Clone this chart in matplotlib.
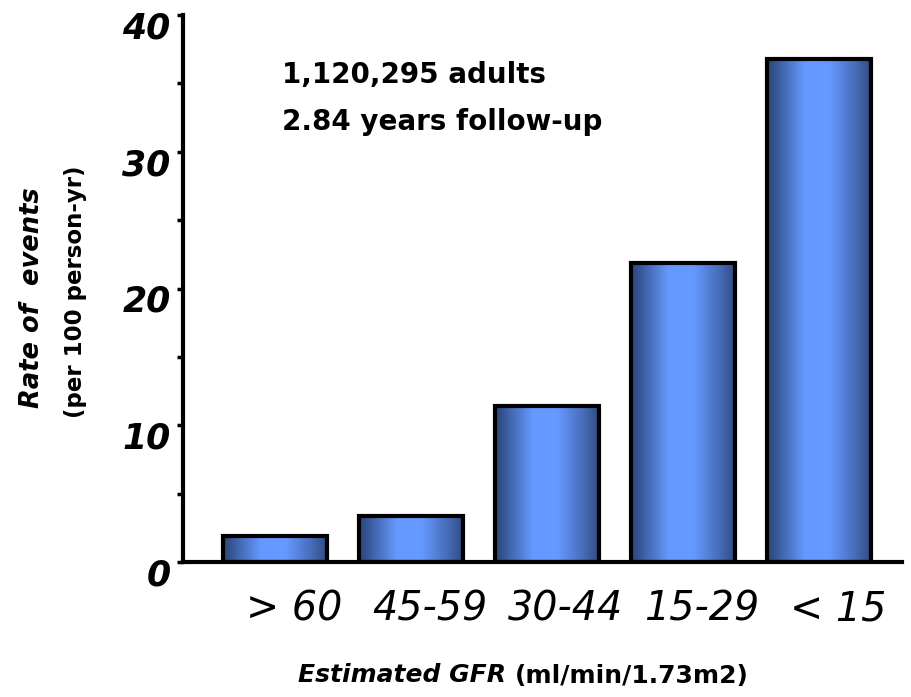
import numpy as np
import matplotlib
matplotlib.use("Agg")
import matplotlib.pyplot as plt
from matplotlib.transforms import offset_copy

categories = ["> 60", "45-59", "30-44", "15-29", "< 15"]
rates = [1.9, 3.4, 11.4, 21.9, 36.8]
major_ticks = [0, 10, 20, 30, 40]
minor_ticks = [5, 15, 25, 35]
note_lines = ["1,120,295 adults", "2.84 years follow-up"]

plt.rcParams["font.family"] = ["DejaVu Sans"]

fig = plt.figure(figsize=(9.12, 6.97), dpi=100)
ax = fig.add_axes([183 / 912, 1 - 562 / 697, (902 - 183) / 912, (562 - 15) / 697])

x = np.arange(len(categories))
bars = ax.bar(x, rates, width=0.765, facecolor="none", edgecolor="black",
              linewidth=3, zorder=3)

# horizontal shading: dark edges, bright centre
dark = np.array([0x2c, 0x45, 0x7a]) / 255
light = np.array([0x66, 0x99, 0xff]) / 255
t = np.linspace(0, 1, 256)
profile = np.interp(t, [0, 0.08, 0.36, 0.6, 0.85, 1.0],
                    [0.0, 0.2, 1.0, 1.0, 0.45, 0.05])
grad = (dark[None, :] + (light - dark)[None, :] * profile[:, None])[None, :, :]
for b in bars:
    x0, y0 = b.get_x(), b.get_y()
    w, h = b.get_width(), b.get_height()
    im = ax.imshow(grad, extent=[x0, x0 + w, y0, y0 + h], aspect="auto",
                   origin="lower", zorder=2, interpolation="bilinear")
    im.set_clip_path(b)

ax.set_xlim(-0.676, 4.61)
ax.set_ylim(0, 40)

for s in ["top", "right"]:
    ax.spines[s].set_visible(False)
for s in ["left", "bottom"]:
    ax.spines[s].set_linewidth(3)

ax.set_yticks(major_ticks)
ax.set_yticks(minor_ticks, minor=True)
ax.set_yticklabels([str(v) for v in major_ticks], fontsize=25,
                   fontweight="bold", fontstyle="italic")
ax.tick_params(axis="y", which="both", direction="out", length=4, width=2.5,
               pad=5)
for lbl in ax.get_yticklabels():
    lbl.set_transform(offset_copy(lbl.get_transform(), fig=fig, x=0, y=-10,
                                  units="dots"))

ax.set_xticks(x)
ax.set_xticklabels(categories, fontsize=28.5, fontstyle="italic")
ax.tick_params(axis="x", length=0, pad=20)
for lbl in ax.get_xticklabels():
    lbl.set_transform(offset_copy(lbl.get_transform(), fig=fig, x=19, y=0,
                                  units="dots"))

ax.text(0.138, 0.890, note_lines[0], transform=ax.transAxes, fontsize=20,
        fontweight="bold", va="center", ha="left")
ax.text(0.138, 0.804, note_lines[1], transform=ax.transAxes, fontsize=20,
        fontweight="bold", va="center", ha="left")

# axis titles built from a bold-italic part and a plain-bold part
fig.text(298 / 912, 1 - 675 / 697, "Estimated GFR", fontsize=18,
         fontweight="bold", fontstyle="italic", va="center", ha="left")
fig.text(515 / 912, 1 - 676 / 697, "(ml/min/1.73m2)", fontsize=18,
         fontweight="bold", va="center", ha="left")

fig.text(32 / 912, 1 - 298 / 697, "Rate of  events", fontsize=18.5,
         fontweight="bold", fontstyle="italic", rotation=90,
         va="center", ha="center")
fig.text(76 / 912, 1 - 292 / 697, "(per 100 person-yr)", fontsize=16.5,
         fontweight="bold", rotation=90, va="center", ha="center")

fig.savefig("out.png", dpi=100)
